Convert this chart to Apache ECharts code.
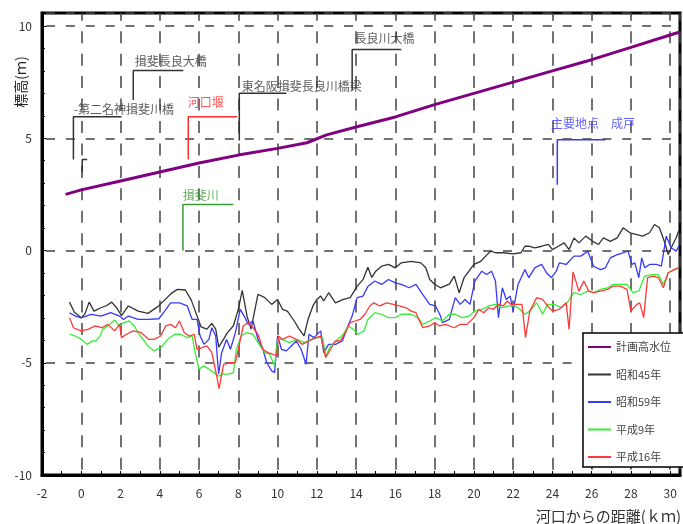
<!DOCTYPE html>
<html>
<head>
<meta charset="utf-8">
<script src="https://cdn.jsdelivr.net/npm/echarts@6/dist/echarts.min.js"></script>
<style>
  html, body { margin: 0; padding: 0; background: #fff; }
  #chart { width: 683px; height: 524px; }
</style>
</head>
<body>
<div id="chart"></div>
<script>
// 距離(km), 標高(m)
const planHWL = [[-0.8, 2.5], [0, 2.7], [2, 3.1], [4, 3.5], [6, 3.9], [8, 4.25], [10, 4.55], [11.5, 4.8],
  [12.5, 5.15], [14, 5.5], [16, 5.95], [18, 6.5], [20, 7.0], [22, 7.5], [24, 8.0], [26, 8.5], [28, 9.05],
  [30, 9.6], [30.45, 9.72]]

const s45 = [[-0.6, -2.3], [-0.35, -2.75], [0.0, -3.0], [0.2, -2.8], [0.4, -2.3], [0.65, -2.7], [1.0, -2.55],
  [1.3, -2.45], [1.55, -2.3], [1.8, -2.55], [2.05, -2.9], [2.4, -2.47], [2.9, -2.7], [3.4, -2.8], [3.9, -2.5],
  [4.25, -2.2], [4.6, -1.9], [4.9, -1.73], [5.3, -1.76], [5.6, -2.2], [5.85, -2.8], [6.1, -3.4], [6.4, -3.5],
  [6.65, -3.25], [6.85, -3.5], [7.0, -4.3], [7.25, -3.95], [7.45, -3.66], [7.75, -3.35], [8.0, -2.62],
  [8.2, -1.78], [8.45, -2.95], [8.65, -3.5], [9.0, -1.95], [9.35, -2.1], [9.7, -2.4], [10.0, -2.18],
  [10.25, -2.62], [10.5, -2.7], [10.85, -3.14], [11.1, -3.5], [11.35, -3.8], [11.55, -3.07], [11.8, -2.47],
  [12.0, -2.18], [12.2, -2.03], [12.35, -2.25], [12.6, -1.88], [12.95, -2.33], [13.35, -2.18], [13.7, -2.1],
  [14.05, -1.6], [14.35, -1.3], [14.6, -0.75], [14.8, -1.2], [15.0, -0.92], [15.3, -0.7], [15.65, -0.62],
  [16.0, -0.77], [16.3, -0.55], [16.8, -0.48], [17.3, -0.55], [17.55, -0.77], [17.75, -1.29], [18.0, -1.5],
  [18.3, -1.66], [18.75, -1.5], [19.0, -1.14], [19.25, -1.88], [19.5, -1.21], [19.75, -0.92], [20.0, -0.62],
  [20.35, -0.48], [20.6, -0.25], [20.85, -0.03], [21.1, -0.1], [21.5, -0.1], [22.0, -0.15], [22.4, -0.1],
  [22.6, 0.19], [22.8, 0.19], [23.1, 0.12], [23.45, 0.19], [23.8, 0.27], [24.0, 0.04], [24.3, 0.19],
  [24.6, 0.34], [24.85, 0.04], [25.1, 0.56], [25.35, 0.34], [25.7, 0.64], [26.05, 0.41], [26.35, 0.27],
  [26.6, 0.56], [26.95, 0.41], [27.3, 0.56], [27.6, 1.01], [27.95, 0.79], [28.3, 0.71], [28.6, 0.64],
  [28.95, 0.79], [29.2, 1.16], [29.45, 1.01], [29.7, 0.41], [29.9, -0.18], [30.05, 0.12], [30.3, 0.56], [30.45, 0.9]]

const s59 = [[-0.6, -2.77], [-0.3, -2.92], [0.0, -3.0], [0.5, -2.84], [1.0, -2.92], [1.5, -2.77], [1.95, -2.92],
  [2.15, -3.07], [2.4, -2.92], [2.9, -3.07], [3.4, -3.07], [3.95, -3.04], [4.25, -2.7], [4.55, -2.33], [5.0, -2.33],
  [5.4, -2.47], [5.65, -3.07], [5.9, -3.07], [6.05, -3.8], [6.25, -4.18], [6.5, -3.96], [6.65, -3.44],
  [6.85, -3.81], [6.95, -5.0], [7.0, -5.5], [7.15, -4.55], [7.4, -3.96], [7.6, -4.4], [7.85, -3.66], [8.1, -2.62],
  [8.3, -2.92], [8.5, -3.29], [8.75, -3.14], [9.0, -3.96], [9.25, -4.4], [9.45, -5.0], [9.7, -5.36], [9.85, -5.44],
  [10.0, -3.81], [10.2, -4.4], [10.45, -4.47], [10.7, -4.25], [10.95, -4.03], [11.2, -4.4], [11.45, -5.07],
  [11.6, -3.73], [11.85, -3.88], [12.2, -3.58], [12.35, -4.55], [12.6, -4.18], [12.95, -4.18], [13.3, -4.03],
  [13.55, -3.44], [13.8, -2.92], [14.05, -2.1], [14.35, -2.03], [14.6, -1.6], [14.95, -1.36], [15.3, -1.51],
  [15.65, -1.29], [16.0, -1.44], [16.3, -1.51], [16.7, -1.66], [17.05, -1.51], [17.4, -1.96], [17.75, -2.4],
  [18.05, -2.47], [18.3, -2.92], [18.4, -3.21], [18.75, -3.07], [19.05, -2.1], [19.3, -2.4], [19.55, -2.18],
  [19.8, -2.4], [20.05, -1.36], [20.4, -0.92], [20.65, -1.07], [20.9, -0.92], [21.1, -1.36], [21.25, -2.99],
  [21.45, -1.66], [21.65, -2.18], [21.85, -2.03], [22.0, -2.7], [22.25, -1.51], [22.6, -0.85], [22.8, -1.21],
  [23.1, -0.77], [23.45, -0.62], [23.7, -0.99], [23.95, -1.21], [24.2, -0.92], [24.35, -0.55], [24.7, -0.62],
  [25.1, -0.25], [25.45, -0.25], [25.8, -0.03], [26.1, -0.7], [26.45, -0.85], [26.7, -0.77], [26.95, -0.33],
  [27.3, -0.18], [27.6, -0.1], [27.85, -0.03], [28.05, -0.62], [28.2, -0.55], [28.4, -1.21], [28.55, -0.33],
  [28.7, -0.77], [28.95, -0.62], [29.3, -0.62], [29.55, -0.7], [29.8, 0.64], [30.05, 0.12], [30.3, -0.03], [30.45, 0.2]]

const h9 = [[-0.6, -3.73], [-0.3, -3.81], [0.0, -3.96], [0.3, -4.18], [0.55, -4.03], [0.75, -4.03], [0.95, -3.81],
  [1.1, -3.5], [1.35, -3.36], [1.7, -3.1], [1.95, -3.36], [2.2, -3.2], [2.45, -3.14], [2.7, -3.36], [2.95, -3.73],
  [3.4, -4.25], [3.7, -4.47], [4.05, -4.33], [4.4, -3.96], [4.75, -3.73], [5.05, -3.73], [5.4, -3.88],
  [5.65, -3.81], [5.8, -4.55], [6.0, -5.29], [6.25, -5.14], [6.5, -5.29], [6.75, -5.44], [7.0, -5.6],
  [7.15, -5.51], [7.5, -5.51], [7.75, -5.44], [7.9, -4.4], [8.15, -3.81], [8.4, -3.66], [8.75, -3.73],
  [9.0, -4.1], [9.35, -4.55], [9.6, -4.62], [9.85, -5.14], [10.0, -3.96], [10.25, -3.96], [10.6, -4.1],
  [11.0, -3.96], [11.35, -4.1], [11.7, -3.96], [12.05, -3.88], [12.3, -3.88], [12.45, -4.7], [12.7, -4.25],
  [13.05, -3.96], [13.35, -3.73], [13.6, -3.36], [13.85, -3.51], [14.1, -3.73], [14.4, -3.58], [14.6, -3.07],
  [14.95, -2.77], [15.3, -2.84], [15.65, -2.99], [16.0, -2.99], [16.3, -2.84], [16.8, -2.84], [17.15, -2.99],
  [17.4, -3.29], [17.75, -3.14], [18.05, -2.99], [18.4, -3.14], [18.75, -2.84], [19.05, -2.84], [19.4, -2.99],
  [19.75, -2.92], [20.05, -2.7], [20.4, -2.62], [20.75, -2.47], [21.1, -2.4], [21.4, -2.55], [21.75, -2.47],
  [22.1, -2.47], [22.35, -2.62], [22.6, -2.84], [22.85, -2.7], [23.2, -2.33], [23.5, -2.84], [23.75, -2.4],
  [24.1, -2.4], [24.45, -2.55], [24.75, -2.33], [25.1, -1.88], [25.45, -1.96], [25.8, -1.81], [26.1, -1.88],
  [26.45, -1.73], [26.8, -1.66], [27.1, -1.51], [27.45, -1.51], [27.8, -1.51], [28.1, -1.88], [28.4, -1.81],
  [28.7, -1.14], [29.05, -1.07], [29.4, -1.07], [29.65, -1.51], [29.9, -0.99], [30.2, -0.85], [30.45, -0.8]]

const h16 = [[-0.6, -2.99], [-0.4, -3.44], [0.0, -3.58], [0.35, -3.51], [0.7, -3.36], [1.05, -3.44], [1.35, -3.29],
  [1.7, -3.58], [1.95, -3.29], [2.05, -3.88], [2.3, -3.73], [2.65, -3.58], [3.05, -3.66], [3.45, -3.96],
  [3.7, -3.96], [4.05, -3.81], [4.3, -3.36], [4.55, -3.29], [4.8, -3.44], [5.0, -3.14], [5.25, -3.66],
  [5.5, -3.81], [5.75, -3.73], [5.9, -4.4], [6.15, -4.33], [6.4, -4.25], [6.65, -4.55], [6.9, -5.59],
  [7.02, -6.15], [7.25, -5.07], [7.6, -4.99], [7.85, -4.99], [8.0, -4.4], [8.25, -3.36], [8.5, -3.21],
  [8.75, -3.44], [9.0, -3.73], [9.25, -4.4], [9.5, -4.55], [9.75, -4.62], [9.95, -4.7], [10.05, -3.81],
  [10.25, -3.96], [10.6, -3.81], [10.95, -3.96], [11.25, -4.18], [11.6, -4.03], [11.95, -3.88], [12.2, -3.81],
  [12.45, -4.77], [12.7, -4.4], [12.95, -4.03], [13.2, -4.03], [13.45, -3.66], [13.7, -3.21], [13.95, -3.14],
  [14.2, -3.07], [14.45, -2.84], [14.7, -2.47], [14.9, -2.33], [15.2, -2.47], [15.55, -2.33], [15.9, -2.4],
  [16.2, -2.47], [16.55, -2.55], [16.8, -2.7], [17.05, -2.77], [17.15, -2.99], [17.4, -3.44], [17.75, -3.36],
  [18.0, -3.21], [18.25, -3.36], [18.55, -3.29], [19.0, -3.44], [19.3, -3.29], [19.65, -3.29], [20.0, -2.99],
  [20.25, -2.62], [20.5, -2.77], [20.75, -2.55], [21.0, -2.62], [21.25, -2.4], [21.5, -2.47], [21.7, -2.25],
  [21.9, -2.4], [22.2, -2.4], [22.45, -2.4], [22.63, -3.88], [22.85, -2.7], [23.2, -2.1], [23.5, -2.18],
  [23.75, -2.47], [24.0, -2.7], [24.35, -2.62], [24.7, -2.33], [24.85, -3.51], [25.05, -0.95], [25.35, -1.81],
  [25.6, -1.36], [25.85, -1.81], [26.1, -1.88], [26.45, -1.81], [26.8, -1.73], [27.1, -1.59], [27.45, -1.59],
  [27.8, -1.73], [28.0, -2.7], [28.3, -2.4], [28.45, -2.33], [28.65, -2.99], [28.85, -1.21], [29.15, -1.14],
  [29.4, -1.21], [29.65, -1.66], [29.9, -0.99], [30.2, -0.85], [30.45, -0.75]]

const seriesNames = ['計画高水位', '昭和45年', '昭和59年', '平成9年', '平成16年']
const seriesData = [planHWL, s45, s59, h9, h16]
const seriesColors = ['#800080', '#333333', '#3838ff', '#38ee38', '#ff3838']

// 地点の引出線と名称
const annoTexts = ['-第二名神揖斐川橋', '揖斐長良大橋', '河口堰', '東名阪揖斐長良川橋梁', '長良川大橋', '主要地点　成戸', '揖斐川']
const annoColors = ['#333', '#333', '#ff3030', '#333', '#333', '#3838ff', '#3a9a3a']
const annoLines = [
  [[-0.4, 4.05], [-0.4, 5.96], [2.05, 5.96]],
  [[2.65, 6.7], [2.65, 8.02], [5.2, 8.02]],
  [[5.45, 4.05], [5.45, 5.96], [7.95, 5.96]],
  [[8.05, 4.9], [8.05, 7.0], [10.45, 7.0]],
  [[13.8, 7.15], [13.8, 8.95], [16.3, 8.95]],
  [[24.25, 2.93], [24.25, 4.93], [26.7, 4.93]],
  [[5.18, 0], [5.18, 2.05], [7.75, 2.05]]
]
const annoAt = [[-0.35, 6.0], [2.75, 8.12], [5.45, 6.3], [8.2, 7.02], [13.95, 9.15], [23.95, 5.35], [5.2, 2.15]]
const smallMark = [[0.05, 3.47], [0.05, 4.05], [0.3, 4.05]]

const FONT = '"Noto Sans CJK JP", sans-serif'

const chart = echarts.init(document.getElementById('chart'))

const series = []
annoLines.forEach((pts, i) => {
  series.push({
    name: 'anno' + i, type: 'line', data: pts, symbol: 'none', silent: true, animation: false,
    lineStyle: { color: annoColors[i], width: 1.5 }, z: 1
  })
})
series.push({
  name: 'mark', type: 'line', data: smallMark, symbol: 'none', silent: true, animation: false,
  lineStyle: { color: '#333', width: 1.5 }, z: 1
})
seriesNames.forEach((name, i) => {
  series.push({
    name: name, type: 'line', data: seriesData[i], symbol: 'none', animation: false,
    itemStyle: { color: seriesColors[i] },
    lineStyle: { color: seriesColors[i], width: i === 0 ? 3 : 1.3 }, z: 2 + i
  })
})
series.push({
  name: 'annoText', type: 'scatter', symbolSize: 1, silent: true, animation: false, z: 10,
  itemStyle: { color: 'rgba(0,0,0,0)' },
  label: { show: true, position: [0, 0], align: 'left', verticalAlign: 'bottom', fontSize: 12, fontFamily: FONT },
  data: annoAt.map((p, i) => ({ value: p, label: { formatter: annoTexts[i], color: annoColors[i] } }))
})

chart.setOption({
  animation: false,
  grid: {
    left: 42, right: -2, top: 13, bottom: 49,
    show: true, borderColor: '#000', borderWidth: 3, backgroundColor: '#fff'
  },
  xAxis: {
    type: 'value', min: -2, max: 30.5, interval: 2,
    axisLine: { onZero: false, lineStyle: { color: '#000', width: 3 } },
    axisTick: { inside: true, length: 4, lineStyle: { color: '#000' } },
    minorTick: { show: true, splitNumber: 2, length: 4, lineStyle: { color: '#000' } },
    axisLabel: {
      color: '#333', fontSize: 12, fontFamily: FONT, margin: 12,
      formatter: v => (v % 2 === 0 ? String(v) : '')
    },
    splitLine: { show: true, lineStyle: { color: '#444', width: 1.5, type: [12, 10.45], dashOffset: 4.25 } }
  },
  yAxis: {
    type: 'value', min: -10, max: 10.58, interval: 5,
    axisLine: { show: true, onZero: false, lineStyle: { color: '#000', width: 3 } },
    axisTick: { show: true, inside: true, length: 4, lineStyle: { color: '#000' } },
    minorTick: { show: true, splitNumber: 5, length: 3, lineStyle: { color: '#000' } },
    axisLabel: {
      color: '#333', fontSize: 12, fontFamily: FONT, margin: 10,
      formatter: v => (v % 5 === 0 ? String(v) : '')
    },
    splitLine: { show: true, lineStyle: { color: '#444', width: 1.5, type: [9, 10.87], dashOffset: 15.87 } }
  },
  legend: {
    data: seriesNames,
    orient: 'vertical', left: 583, top: 333,
    backgroundColor: '#fff', borderColor: '#000', borderWidth: 1.5, borderRadius: 0,
    padding: [7, 80, 3, 4], itemGap: 13.5, itemWidth: 23, itemHeight: 14,
    itemStyle: { opacity: 0 },
    textStyle: { color: '#444', fontSize: 11, fontFamily: FONT, lineHeight: 14 }
  },
  graphic: [
    {
      type: 'text', x: 21, y: 82, rotation: Math.PI / 2,
      style: { text: '標高(ｍ)', fill: '#222', font: '14px ' + FONT, align: 'center', verticalAlign: 'middle' }
    },
    {
      type: 'text', x: 681, y: 516,
      style: { text: '河口からの距離(ｋｍ)', fill: '#333', font: '15px ' + FONT, align: 'right', verticalAlign: 'middle' }
    }
  ],
  series: series
})
</script>
</body>
</html>
